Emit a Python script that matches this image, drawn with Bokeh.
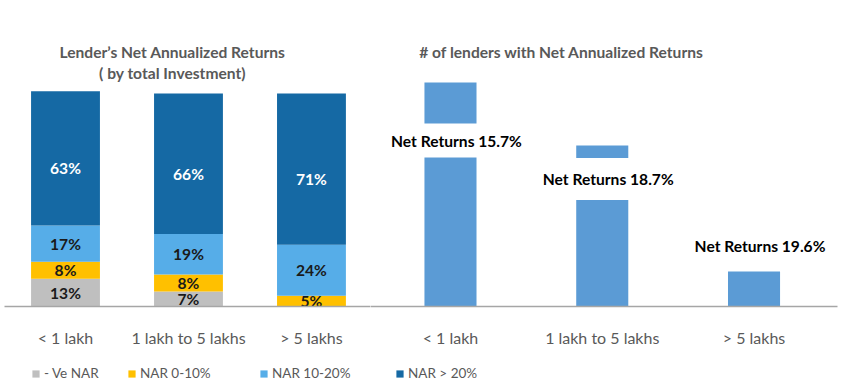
from bokeh.plotting import figure
from bokeh.models import (Range1d, FixedTicker, Legend, LegendItem, Label,
                          ColumnDataSource)
from bokeh.layouts import row, column
from bokeh.embed import file_html
from bokeh.resources import INLINE
from bokeh.core.properties import value

# ---------------- data ----------------
categories = ["< 1 lakh", "1 lakh to 5 lakhs", "> 5 lakhs"]
series_names = ["- Ve NAR", "NAR 0-10%", "NAR 10-20%", "NAR > 20%"]
neg_nar = [13, 7, 0]
nar_0_10 = [8, 8, 5]
nar_10_20 = [17, 19, 24]
nar_above_20 = [63, 66, 71]
lender_counts = [1120, 805, 175]
net_returns = [15.7, 18.7, 19.6]
left_title = ["Lender\u2019s Net Annualized Returns", "( by total Investment)"]
right_title = "# of lenders with Net  Annualized Returns"

# ---------------- style ----------------
FONT = "Lato"
GREY_TXT = "#595959"
AXIS_COL = "#A6A6A6"
stack_colors = ["#BFBFBF", "#FFC000", "#56ADE8", "#1569A4"]
right_color = "#5B9BD5"
label_pos = [830, 637, 305]        # label centres on right chart (data units)
label_pad = [8, 12, 2]
BOLD_SIZE = "15.6px"

xs = list(range(len(categories)))


def style_axis(p):
    ax = p.xaxis[0]
    ax.ticker = FixedTicker(ticks=xs)
    ax.major_label_overrides = {i: c for i, c in zip(xs, categories)}
    ax.axis_line_color = AXIS_COL
    ax.axis_line_width = 1.5
    ax.major_tick_line_color = None
    ax.minor_tick_line_color = None
    ax.major_label_standoff = 15
    ax.major_label_text_font = FONT
    ax.major_label_text_font_size = "16px"
    ax.major_label_text_color = GREY_TXT
    p.grid.visible = False
    p.outline_line_color = None
    p.background_fill_color = "white"
    p.border_fill_color = "white"


# ---------------- left: stacked bars ----------------
p1 = figure(width=370, height=363, x_range=Range1d(-0.496, 2.480),
            y_range=Range1d(0, 143.66), y_axis_location=None,
            output_backend="svg", toolbar_location=None,
            min_border_left=4, min_border_right=0, min_border_top=0,
            min_border_bottom=57)
style_axis(p1)

stack_keys = ["neg", "n010", "n1020", "n20"]
src = ColumnDataSource(dict(x=xs, neg=neg_nar, n010=nar_0_10,
                            n1020=nar_10_20, n20=nar_above_20))
rs = p1.vbar_stack(stack_keys, x="x", width=0.56, color=stack_colors,
                   line_color=None, source=src)

# segment labels
series = [neg_nar, nar_0_10, nar_10_20, nar_above_20]
lx, ly, lt, lc, lo = [], [], [], [], []
for i in xs:
    base = 0
    for k, s in enumerate(series):
        v = s[i]
        if v > 0:
            lx.append(i)
            ly.append(base + v / 2)
            lt.append(f"{v}%")
            lc.append("white" if k == 3 else "#1a1a1a")
            lo.append(10 if k == 3 else 0)
        base += v
p1.text(x="x", y="y", text="t", text_color="c", y_offset="o",
        source=ColumnDataSource(dict(x=lx, y=ly, t=lt, c=lc, o=lo)),
        text_align="center", text_baseline="middle",
        text_font=value(FONT), text_font_style="bold",
        text_font_size=BOLD_SIZE)

for j, line in enumerate(left_title):
    p1.add_layout(Label(x=168, y=255 - 21 * j, x_units="screen",
                        y_units="screen", text=line, text_align="center",
                        text_baseline="middle", text_font=FONT,
                        text_font_style="bold", text_font_size=BOLD_SIZE,
                        text_color=GREY_TXT))

# ---------------- right: lender counts ----------------
p2 = figure(width=473, height=363, x_range=Range1d(-0.527, 2.550),
            y_range=Range1d(0, 1530), y_axis_location=None,
            output_backend="svg", toolbar_location=None,
            min_border_left=0, min_border_right=6, min_border_top=0,
            min_border_bottom=57)
style_axis(p2)

p2.vbar(x=xs, top=lender_counts, width=0.343, color=right_color,
        line_color=None)

for i in xs:
    p2.add_layout(Label(x=i, y=label_pos[i], x_offset=6,
                        text=f"Net Returns {net_returns[i]}%",
                        text_align="center", text_baseline="middle",
                        text_font=FONT, text_font_style="bold",
                        text_font_size=BOLD_SIZE, text_color="black",
                        background_fill_color="white", padding=label_pad[i]))

p2.add_layout(Label(x=193, y=255, x_units="screen", y_units="screen",
                    text=right_title, text_align="center",
                    text_baseline="middle", text_font=FONT,
                    text_font_style="bold", text_font_size=BOLD_SIZE,
                    text_color=GREY_TXT))

# ---------------- legend strip ----------------
p3 = figure(width=843, height=22, x_range=Range1d(0, 1), y_range=Range1d(0, 1),
            x_axis_location=None, y_axis_location=None,
            output_backend="svg", toolbar_location=None,
            min_border_left=0, min_border_right=0, min_border_top=0,
            min_border_bottom=0)
p3.grid.visible = False
p3.outline_line_color = None

legend_x = [31, 127, 259, 395]
for k in range(4):
    # zero-height swatch renderer, used only to draw the legend key
    r = p3.vbar(x=[0], top=[0], bottom=[0], width=0.001,
                fill_color=stack_colors[k], line_color=None)
    lg = Legend(items=[LegendItem(label=series_names[k], renderers=[r])],
                location=(legend_x[k], 4), orientation="horizontal",
                glyph_width=9, glyph_height=9, label_standoff=4,
                padding=0, margin=0, border_line_color=None,
                background_fill_alpha=0, label_text_font=FONT,
                label_text_font_size="13.5px", label_text_color=GREY_TXT,
                label_height=16)
    p3.add_layout(lg)

layout = column(row(p1, p2, spacing=0), p3, spacing=0)
open("out.html", "w").write(file_html(layout, INLINE))
